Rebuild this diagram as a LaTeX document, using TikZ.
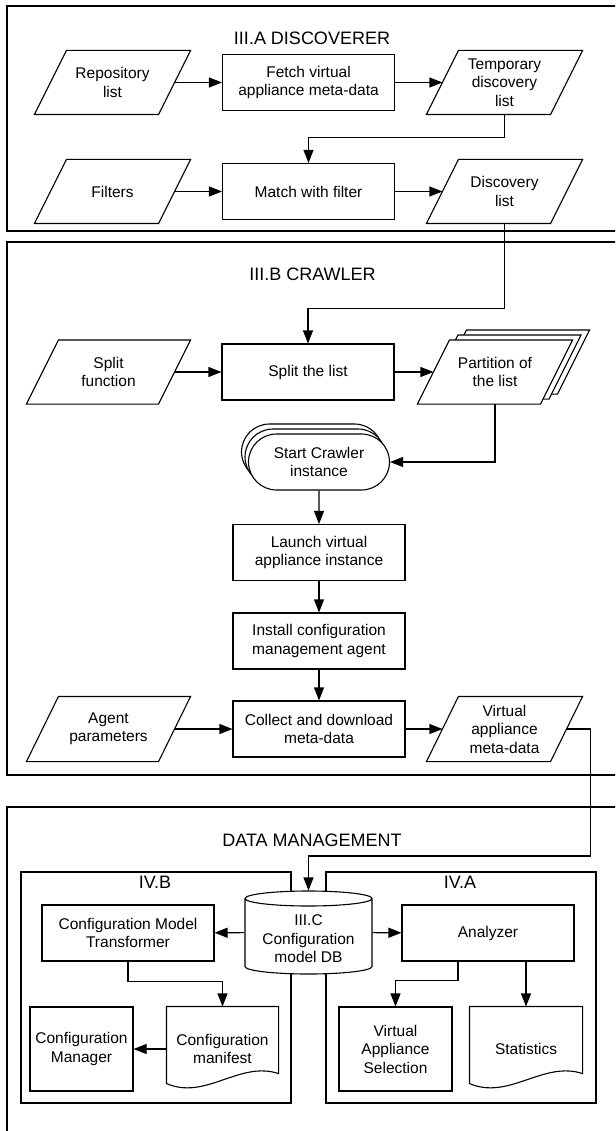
\documentclass[tikz,border=0pt]{standalone}
\usepackage{fontspec}
\setmainfont{Liberation Sans}
\usepackage{tikz}
\usetikzlibrary{positioning,calc,arrows.meta,shapes.misc,shadows,backgrounds}

% data symbol: parallelogram round a text node, shifted by (#2,#3)
\newcommand\ioshape[3]{%
  \draw[line width=1.1pt,fill=white] ([xshift=#2-16pt,yshift=#3]#1.south west) -- ([xshift=#2+16pt,yshift=#3]#1.north west)
    -- ([xshift=#2+16pt,yshift=#3]#1.north east) -- ([xshift=#2-16pt,yshift=#3]#1.south east) -- cycle;}
% document shape with a wavy lower edge
\newcommand\docborder[1]{%
  \draw (#1.north west) -- (#1.north east) -- ($(#1.south east)+(0,-18)$)
    .. controls ($(#1.south west)!0.65!(#1.south east)+(0,-31)$) and ($(#1.south west)!0.35!(#1.south east)+(0,9)$) .. ($(#1.south west)+(0,-8)$) -- cycle;}

\begin{document}
\begin{tikzpicture}[x=1pt,y=-1pt,line width=1.1pt,
  every node/.style={font=\fontsize{15.5}{18.5}\selectfont},
  proc/.style={draw,fill=white,align=center,inner sep=0pt,minimum width=172pt,minimum height=56pt},
  iodata/.style={align=center,inner sep=0pt,minimum width=123pt,minimum height=63pt},
  doc/.style={align=center,inner sep=0pt,minimum height=84pt},
  title/.style={font=\fontsize{18}{21}\selectfont,anchor=base},
  sect/.style={line width=1.3pt},
  arr/.style={-{Triangle[length=13pt,width=10pt]}}]
\useasboundingbox (0,0) rectangle (615,1131);
\clip (0,0) rectangle (615,1131);

% sections
\draw[sect] (7,6) rectangle (625,231);
\draw[sect] (7,242) rectangle (625,775);
\draw[sect] (7,807) rectangle (625,1145);
\node[title] (tdisc) at (312,45) {III.A DISCOVERER};
\node[title] (tcrawl) at (312.5,280) {III.B CRAWLER};
\node[title] (tdata) at (312,846) {DATA MANAGEMENT};

% discoverer
\node[iodata] (repo) at (112.5,82.5) {Repository\\list};
\node[proc] (fetch) at (308.5,82.5) {Fetch virtual\\appliance meta-data};
\node[iodata] (temp) at (504.5,82.5) {Temporary\\discovery\\list};
\node[iodata] (filters) at (112.5,191.5) {Filters};
\node[proc] (match) at (308.5,191.5) {Match with filter};
\node[iodata] (disc) at (504.5,191.5) {Discovery\\list};

% crawler
\node[iodata,minimum width=131pt] (splitfn) at (108.5,372) {Split\\function};
\node[proc] (split) at (308,372) {Split the list};
\node[iodata,minimum width=122pt] (part) at (495,372) {Partition of\\the list};
\node[rounded rectangle,draw,fill=white,align=center,inner sep=0pt,minimum width=141pt,minimum height=56pt,
  copy shadow={shadow xshift=-7pt,shadow yshift=10pt},
  copy shadow={shadow xshift=-3.5pt,shadow yshift=5pt}] (start) at (319,462) {Start Crawler\\instance};
\node[proc] (launch) at (319,552.5) {Launch virtual\\appliance instance};
\node[proc] (install) at (319,641) {Install configuration\\management agent};
\node[proc] (collect) at (319,729) {Collect and download\\meta-data};
\node[iodata,minimum width=131pt,minimum height=64pt] (agent) at (108.5,729) {Agent\\parameters};
\node[iodata,minimum height=64pt] (vameta) at (504.5,729) {Virtual\\appliance\\meta-data};

\begin{scope}[on background layer]
\foreach \n in {repo,temp,filters,disc,splitfn,agent,vameta} {\ioshape{\n}{0pt}{0pt}}
\ioshape{part}{17pt}{10pt}
\ioshape{part}{8.5pt}{5pt}
\ioshape{part}{0pt}{0pt}
\end{scope}

% data management
\draw (21,872) rectangle (291,1103);
\draw (326,872) rectangle (596,1103);
\node[title] (tivb) at (155,888) {IV.B};
\node[title] (tiva) at (460,888) {IV.A};
\coordinate (dbc) at (308.5,932.5);
\draw[fill=white] ($(dbc)+(-63.5,-34)$) -- ($(dbc)+(-63.5,34)$)
  arc[start angle=180,end angle=360,x radius=63.5pt,y radius=7.5pt] -- ($(dbc)+(63.5,-34)$)
  arc[start angle=0,end angle=180,x radius=63.5pt,y radius=7.5pt] -- cycle
  ($(dbc)+(-63.5,-34)$) arc[start angle=180,end angle=360,x radius=63.5pt,y radius=7.5pt];
\node[align=center,inner sep=0pt,minimum width=127pt,minimum height=83pt] (db) at (dbc)
  {\rule{0pt}{24pt}III.C\\Configuration\\model DB};
\node[proc] (cmt) at (128,933) {Configuration Model\\Transformer};
\node[proc] (analyzer) at (488,933) {Analyzer};
\node[proc,minimum width=103pt,minimum height=84pt] (cm) at (81.5,1049) {Configuration\\Manager};
\node[doc,minimum width=111pt] (manifest) at (222.5,1049) {\rule{0pt}{7pt}Configuration\\manifest};
\node[proc,minimum width=113pt,minimum height=84pt] (vas) at (395.5,1049) {Virtual\\Appliance\\Selection};
\node[doc,minimum width=112pt] (stats) at (526,1049) {Statistics};
\docborder{manifest}
\docborder{stats}

% flow
\draw[arr] (repo) -- (fetch);
\draw[arr] (fetch) -- (temp);
\draw[arr] (temp.south) -- ++(0,23) -| (match.north);
\draw[arr] (filters) -- (match);
\draw[arr] (match) -- (disc);
\draw[arr] (disc.south) -- ++(0,85) -| (split.north);
\draw[arr] (splitfn) -- (split);
\draw[arr] (split) -- (part);
\draw[arr] (part.south) |- (start.east);
\draw[arr] (start) -- (launch);
\draw[arr] (launch) -- (install);
\draw[arr] (install) -- (collect);
\draw[arr] (agent) -- (collect);
\draw[arr] (collect) -- (vameta);
\draw[arr] (vameta.east) -- ++(24,0) -- ++(0,127) -| (db.north);
\draw[arr] (db) -- (cmt);
\draw[arr] (db) -- (analyzer);
\draw[arr] (cmt.south) -- ++(0,20) -| (manifest.north);
\draw[arr] (manifest) -- (cm);
\draw[arr] ([xshift=-30pt]analyzer.south) -- ++(0,19) -| (vas.north);
\draw[arr] (analyzer.south -| stats.north) -- (stats.north);
\end{tikzpicture}
\end{document}
